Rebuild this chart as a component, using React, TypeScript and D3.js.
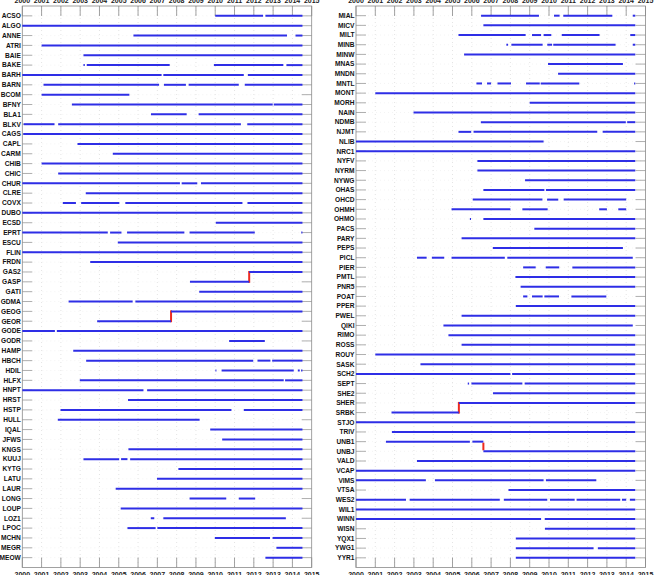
import React, { useEffect, useRef } from "react";
import * as d3 from "d3";

// station availability, one list of [start, end] spans (decimal years) per station
const leftStations = [
  "ACSO", "ALGO", "ANNE", "ATRI", "BAIE", "BAKE", "BARH", "BARN", "BCOM", "BFNY",
  "BLA1", "BLKV", "CAGS", "CAPL", "CARM", "CHIB", "CHIC", "CHUR", "CLRE", "COVX",
  "DUBO", "ECSD", "EPRT", "ESCU", "FLIN", "FRDN", "GAS2", "GASP", "GATI", "GDMA",
  "GEOG", "GEOR", "GODE", "GODR", "HAMP", "HBCH", "HDIL", "HLFX", "HNPT", "HRST",
  "HSTP", "HULL", "IQAL", "JFWS", "KNGS", "KUUJ", "KYTG", "LATU", "LAUR", "LONG",
  "LOUP", "LOZ1", "LPOC", "MCHN", "MEGR", "MEOW",
];

const leftSpans = [
  [[2010.0, 2012.48], [2012.6, 2014.52]],
  [[2000.0, 2014.52]],
  [[2005.76, 2013.72], [2014.16, 2014.52]],
  [[2001.0, 2014.52]],
  [[2003.17, 2014.52]],
  [[2003.17, 2003.24], [2003.34, 2007.64], [2009.93, 2013.53], [2013.69, 2014.52]],
  [[2000.0, 2007.22], [2007.31, 2011.48], [2011.69, 2014.52]],
  [[2001.1, 2007.09], [2007.34, 2008.48], [2008.62, 2011.22], [2011.53, 2014.52]],
  [[2001.0, 2005.55]],
  [[2002.57, 2012.98], [2013.03, 2014.52]],
  [[2006.67, 2008.52], [2009.14, 2014.52]],
  [[2000.07, 2001.67], [2001.86, 2011.33], [2011.66, 2014.52]],
  [[2000.05, 2014.52]],
  [[2002.86, 2014.52]],
  [[2004.69, 2014.52]],
  [[2001.0, 2014.52]],
  [[2001.86, 2014.52]],
  [[2000.0, 2008.17], [2008.26, 2009.07], [2009.26, 2014.52]],
  [[2003.29, 2014.52]],
  [[2002.1, 2002.78], [2003.05, 2005.03], [2005.34, 2011.41], [2011.67, 2014.52]],
  [[2000.0, 2014.52]],
  [[2010.03, 2014.52]],
  [[2000.0, 2004.43], [2004.55, 2005.14], [2005.43, 2008.4], [2008.67, 2012.05], [2014.46, 2014.52]],
  [[2004.95, 2014.52]],
  [[2000.0, 2014.52]],
  [[2003.52, 2014.52]],
  [[2011.76, 2014.52]],
  [[2008.69, 2011.76]],
  [[2009.17, 2014.52]],
  [[2002.4, 2005.72], [2005.86, 2014.52]],
  [[2007.71, 2014.52]],
  [[2003.88, 2007.71]],
  [[2000.0, 2001.69], [2001.79, 2014.52]],
  [[2010.72, 2012.57]],
  [[2002.64, 2014.52]],
  [[2003.31, 2011.97], [2012.19, 2012.86], [2012.95, 2014.52]],
  [[2010.01, 2010.06], [2010.33, 2014.07], [2014.28, 2014.38], [2014.45, 2014.52]],
  [[2002.98, 2013.55], [2013.62, 2014.52]],
  [[2000.0, 2006.28], [2006.47, 2014.52]],
  [[2005.48, 2014.52]],
  [[2001.98, 2010.84], [2011.48, 2014.52]],
  [[2001.84, 2009.19]],
  [[2009.74, 2014.52]],
  [[2010.36, 2014.52]],
  [[2005.5, 2014.52]],
  [[2003.17, 2005.02], [2005.12, 2005.45], [2005.59, 2014.52]],
  [[2008.09, 2014.52]],
  [[2006.98, 2014.52]],
  [[2004.84, 2014.52]],
  [[2008.67, 2010.57], [2011.22, 2012.07]],
  [[2005.1, 2014.52]],
  [[2006.66, 2006.84], [2007.31, 2013.66]],
  [[2005.45, 2006.91], [2007.0, 2014.52]],
  [[2009.98, 2012.84], [2012.97, 2014.52]],
  [[2013.17, 2014.52]],
  [[2012.6, 2014.52]],
];

const rightStations = [
  "MIAL", "MICV", "MILT", "MINB", "MINW", "MNAS", "MNDN", "MNTL", "MONT", "MORH",
  "NAIN", "NDMB", "NJMT", "NLIB", "NRC1", "NYFV", "NYRM", "NYWG", "OHAS", "OHCD",
  "OHMH", "OHMO", "PACS", "PARY", "PEPS", "PICL", "PIER", "PMTL", "PNR5", "POAT",
  "PPER", "PWEL", "QIKI", "RIMO", "ROSS", "ROUY", "SASK", "SCH2", "SEPT", "SHE2",
  "SHER", "SRBK", "STJO", "TRIV", "UNB1", "UNBJ", "VALD", "VCAP", "VIMS", "VTSA",
  "WES2", "WIL1", "WINN", "WISN", "YQX1", "YWG1", "YYR1",
];

const rightSpans = [
  [[2006.48, 2009.48], [2010.26, 2010.55], [2010.74, 2013.28], [2014.34, 2014.47]],
  [[2006.6, 2014.47]],
  [[2005.31, 2008.79], [2009.12, 2009.59], [2009.72, 2010.12], [2010.66, 2012.62], [2014.21, 2014.47]],
  [[2007.79, 2007.88], [2008.05, 2009.67], [2009.91, 2010.16], [2010.22, 2013.45], [2014.34, 2014.47]],
  [[2005.6, 2014.47]],
  [[2009.95, 2013.83]],
  [[2010.47, 2014.47]],
  [[2006.24, 2006.53], [2006.79, 2007.0], [2007.33, 2008.03], [2008.81, 2009.52], [2009.57, 2011.57], [2014.41, 2014.47]],
  [[2001.0, 2014.47]],
  [[2009.0, 2014.47]],
  [[2002.98, 2014.47]],
  [[2006.47, 2013.98], [2014.05, 2014.47]],
  [[2005.31, 2005.97], [2006.09, 2012.5], [2012.78, 2014.47]],
  [[2000.0, 2009.72]],
  [[2000.0, 2014.47]],
  [[2006.29, 2014.47]],
  [[2006.29, 2014.47]],
  [[2008.76, 2014.47]],
  [[2006.6, 2009.76], [2009.84, 2014.47]],
  [[2006.05, 2009.66], [2009.9, 2010.48], [2010.76, 2014.0]],
  [[2004.95, 2008.0], [2008.62, 2009.93], [2012.6, 2013.0], [2013.59, 2014.0]],
  [[2005.9, 2005.96], [2006.6, 2014.47]],
  [[2009.24, 2014.47]],
  [[2005.47, 2014.47]],
  [[2007.09, 2013.83]],
  [[2003.16, 2003.66], [2003.93, 2004.57], [2004.95, 2007.71], [2007.84, 2014.34]],
  [[2008.66, 2009.31], [2009.83, 2010.53], [2011.21, 2014.47]],
  [[2008.26, 2014.47]],
  [[2008.53, 2014.47]],
  [[2008.66, 2008.88], [2009.12, 2009.67], [2009.76, 2010.52], [2011.16, 2012.97]],
  [[2008.28, 2014.47]],
  [[2005.47, 2014.47]],
  [[2004.53, 2014.34]],
  [[2004.79, 2014.47]],
  [[2005.47, 2014.47]],
  [[2001.0, 2014.47]],
  [[2003.34, 2014.47]],
  [[2000.0, 2008.0], [2008.09, 2014.47]],
  [[2005.79, 2005.86], [2005.98, 2008.62], [2008.74, 2014.47]],
  [[2007.1, 2014.47]],
  [[2005.33, 2014.47]],
  [[2001.84, 2005.33]],
  [[2000.0, 2014.47]],
  [[2001.86, 2014.47]],
  [[2001.55, 2005.9], [2006.03, 2006.6]],
  [[2006.6, 2014.47]],
  [[2003.16, 2014.47]],
  [[2000.0, 2014.47]],
  [[2000.0, 2003.62], [2004.09, 2009.72], [2009.84, 2012.45]],
  [[2007.9, 2014.47]],
  [[2000.0, 2002.59], [2002.78, 2007.45], [2007.66, 2009.91], [2010.05, 2011.33], [2011.43, 2013.69], [2013.78, 2014.0], [2014.19, 2014.47]],
  [[2000.0, 2014.47]],
  [[2000.0, 2009.59], [2009.78, 2014.47]],
  [[2009.79, 2014.47]],
  [[2008.28, 2014.47]],
  [[2008.28, 2012.31], [2012.53, 2014.47]],
  [[2008.28, 2014.47]],
];

// station renames: old id -> new id, switch date
const renames = [
  { from: "GASP", to: "GAS2", year: 2011.76 },
  { from: "GEOR", to: "GEOG", year: 2007.71 },
  { from: "SRBK", to: "SHER", year: 2005.33 },
  { from: "UNB1", to: "UNBJ", year: 2006.6 },
];

const years = d3.range(2000, 2016);

const width = 654;
const height = 575;
const top = 6;
const bottom = 567.5;
const blue = "#2e2ee6";
const red = "#ee2a1e";
const font = "'Liberation Sans', Arial, Helvetica, sans-serif";

function drawPanel(svg, stations, spans, left, right) {
  const g = svg.append("g");
  const x = d3.scaleLinear().domain([2000, 2015]).range([left, right]);
  const y = d3.scalePoint().domain(stations).range([top, bottom]).padding(1);

  // dotted grid
  g.selectAll(".vgrid")
    .data(years.slice(1, -1))
    .enter()
    .append("line")
    .attr("x1", (d) => x(d))
    .attr("x2", (d) => x(d))
    .attr("y1", top)
    .attr("y2", bottom)
    .attr("stroke", "#d8d8d8")
    .attr("stroke-width", 0.7)
    .attr("stroke-dasharray", "1,3");

  g.selectAll(".hgrid")
    .data(stations)
    .enter()
    .append("line")
    .attr("x1", left)
    .attr("x2", right)
    .attr("y1", (d) => y(d))
    .attr("y2", (d) => y(d))
    .attr("stroke", "#ededed")
    .attr("stroke-width", 0.6)
    .attr("stroke-dasharray", "1,3");

  // inward ticks on all four sides
  const tick = 10;
  years.forEach((yr) => {
    g.append("line").attr("x1", x(yr)).attr("x2", x(yr)).attr("y1", top).attr("y2", top + tick)
      .attr("stroke", "#8a8a8a").attr("stroke-width", 0.8);
    g.append("line").attr("x1", x(yr)).attr("x2", x(yr)).attr("y1", bottom).attr("y2", bottom - tick)
      .attr("stroke", "#8a8a8a").attr("stroke-width", 0.8);
  });
  stations.forEach((s) => {
    g.append("line").attr("x1", left).attr("x2", left + tick).attr("y1", y(s)).attr("y2", y(s))
      .attr("stroke", "#9a9a9a").attr("stroke-width", 0.8);
    g.append("line").attr("x1", right).attr("x2", right - tick).attr("y1", y(s)).attr("y2", y(s))
      .attr("stroke", "#9a9a9a").attr("stroke-width", 0.8);
  });

  g.append("rect")
    .attr("x", left)
    .attr("y", top)
    .attr("width", right - left)
    .attr("height", bottom - top)
    .attr("fill", "none")
    .attr("stroke", "#8a8a8a")
    .attr("stroke-width", 0.8);

  // year labels, top and bottom
  ["top", "bottom"].forEach((side) => {
    g.selectAll(".yl-" + side)
      .data(years)
      .enter()
      .append("text")
      .attr("x", (d) => x(d))
      .attr("y", side === "top" ? 2.5 : 577)
      .attr("text-anchor", "middle")
      .attr("font-family", font)
      .attr("font-weight", "bold")
      .attr("font-size", 7)
      .attr("fill", "#222")
      .text((d) => d);
  });

  // station labels
  g.selectAll(".sl")
    .data(stations)
    .enter()
    .append("text")
    .attr("x", left - 1.5)
    .attr("y", (d) => y(d))
    .attr("dy", "0.35em")
    .attr("text-anchor", "end")
    .attr("font-family", font)
    .attr("font-weight", "bold")
    .attr("font-size", 6.6)
    .attr("fill", "#111")
    .text((d) => d);

  // rename connectors
  renames
    .filter((r) => stations.includes(r.from))
    .forEach((r) => {
      g.append("line")
        .attr("x1", x(r.year))
        .attr("x2", x(r.year))
        .attr("y1", y(r.from) + 1)
        .attr("y2", y(r.to) - 1)
        .attr("stroke", red)
        .attr("stroke-width", 2);
    });

  // availability spans
  stations.forEach((s, i) => {
    g.selectAll(null)
      .data(spans[i])
      .enter()
      .append("line")
      .attr("x1", (d) => x(d[0]))
      .attr("x2", (d) => Math.max(x(d[1]), x(d[0]) + 1))
      .attr("y1", y(s))
      .attr("y2", y(s))
      .attr("stroke", blue)
      .attr("stroke-width", 2);
  });
}

export default function App() {
  const ref = useRef(null);

  useEffect(() => {
    const svg = d3.select(ref.current);
    svg.selectAll("*").remove();
    svg.append("rect").attr("width", width).attr("height", height).attr("fill", "#fff");
    drawPanel(svg, leftStations, leftSpans, 22.3, 311.7);
    drawPanel(svg, rightStations, rightSpans, 356, 645.5);
  }, []);

  return (
    <svg
      ref={ref}
      width={width}
      height={height}
      style={{ position: "absolute", left: 0, top: 0, display: "block" }}
    />
  );
}
